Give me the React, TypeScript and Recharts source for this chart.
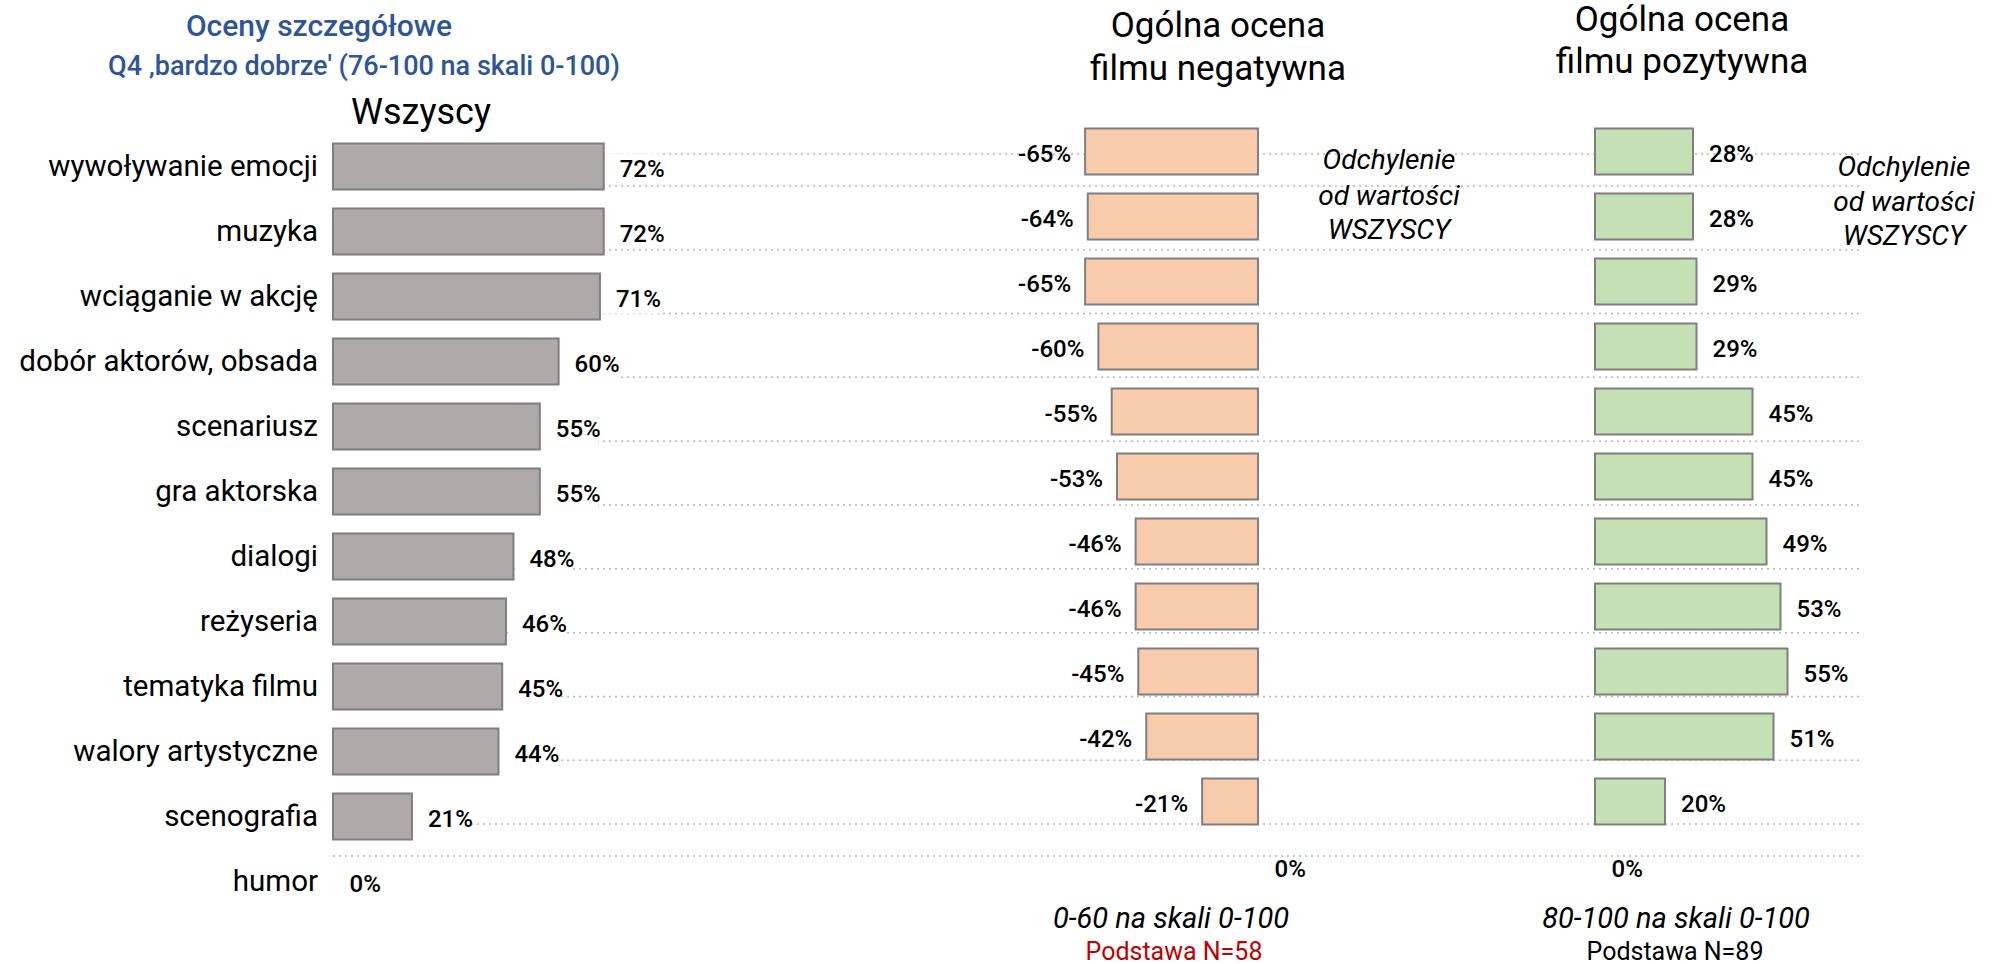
import React from "react"
import { Bar, BarChart, CartesianGrid, Cell, LabelList, XAxis, YAxis } from "recharts"

// oceny szczegółowe – kategorie i wartości
const categories = [
  "wywoływanie emocji",
  "muzyka",
  "wciąganie w akcję",
  "dobór aktorów, obsada",
  "scenariusz",
  "gra aktorska",
  "dialogi",
  "reżyseria",
  "tematyka filmu",
  "walory artystyczne",
  "scenografia",
  "humor",
]
const allValues = [72, 72, 71, 60, 55, 55, 48, 46, 45, 44, 21, 0]
const negativeDiff = [-65, -64, -65, -60, -55, -53, -46, -46, -45, -42, -21, 0]
const positiveDiff = [28, 28, 29, 29, 45, 45, 49, 53, 55, 51, 20, 0]

const allData = categories.map((name, i) => ({ name, value: allValues[i] }))
const negData = categories.map((name, i) => ({ name, value: negativeDiff[i] }))
const posData = categories.map((name, i) => ({ name, value: positiveDiff[i] }))
// linie kropkowane tabeli – jedna pod każdym wierszem ze słupkiem
const gridData = categories.slice(0, 11).map((name) => ({ name }))

const FONT = "Roboto, sans-serif"
const STROKE = "#7f7f7f"

// zero nie rysuje słupka, ale etykieta "0%" ma zostać
const zeroMin = (v: any) => (Number(v) === 0 ? 0.5 : 0)

const renderLabel = (withBg: boolean) => (props: any) => {
  const vb = props.viewBox ?? props
  const x = Number(vb.x ?? props.x)
  const y = Number(vb.y ?? props.y)
  const w = Number(vb.width ?? props.width)
  const h = Number(vb.height ?? props.height)
  const v = Number(props.value)
  const text = `${v}%`
  const left = Math.min(x, x + w)
  const right = Math.max(x, x + w)
  const cy = y + h / 2 + 2
  const neg = v < 0
  const tx = neg ? left - 14 : right + 16
  const tw = text.length * 13.5
  return (
    <g>
      {withBg && <rect x={right + 2} y={cy - 15} width={tw + 16} height={30} fill="#fff" />}
      <text
        x={tx}
        y={cy}
        textAnchor={neg ? "end" : "start"}
        dominantBaseline="central"
        fontFamily={FONT}
        fontSize={24}
        fontWeight={500}
        fill="#000"
      >
        {text}
      </text>
    </g>
  )
}

function Txt({ x, y, size, children, color = "#000", italic = false, weight = 400 }: any) {
  return (
    <div
      style={{
        position: "absolute",
        left: x,
        top: y,
        transform: "translate(-50%, -50%)",
        whiteSpace: "nowrap",
        fontSize: size,
        lineHeight: 1,
        color,
        fontStyle: italic ? "italic" : "normal",
        fontWeight: weight,
      }}
    >
      {children}
    </div>
  )
}

const cells = (values: number[]) =>
  values.map((v, i) => <Cell key={i} fillOpacity={v === 0 ? 0 : 1} strokeOpacity={v === 0 ? 0 : 1} />)

export default function App() {
  return (
    <div style={{ position: "absolute", left: 0, top: 0, width: 1994, height: 964, background: "#fff", fontFamily: FONT, overflow: "hidden" }}>
      <div style={{ position: "absolute", left: 0, top: 0 }}>
        <BarChart width={1994} height={964} data={gridData} layout="vertical" margin={{ top: 154, right: 131, bottom: 108, left: 333 }}>
          <CartesianGrid vertical={false} stroke="#b8b8b8" strokeWidth={1.5} strokeDasharray="2 4" />
          <XAxis type="number" domain={[0, 1]} hide />
          <YAxis type="category" dataKey="name" hide />
        </BarChart>
      </div>

      <div style={{ position: "absolute", left: 0, top: 0 }}>
        <BarChart width={800} height={964} data={allData} layout="vertical" margin={{ top: 133.5, right: 91, bottom: 50.5, left: 0 }}>
          <XAxis type="number" domain={[0, 100]} hide />
          <YAxis
            type="category"
            dataKey="name"
            width={333}
            tickLine={false}
            axisLine={false}
            tickSize={0}
            tickMargin={15}
            tick={{ fill: "#000", fontSize: 29.5, fontFamily: FONT }}
          />
          <Bar dataKey="value" fill="#aeaaaa" stroke={STROKE} strokeWidth={2} barSize={46} minPointSize={zeroMin} isAnimationActive={false}>
            {cells(allValues)}
            <LabelList dataKey="value" content={renderLabel(true)} />
          </Bar>
        </BarChart>
      </div>

      <div style={{ position: "absolute", left: 0, top: 0 }}>
        <BarChart width={1994} height={964} data={negData} layout="vertical" margin={{ top: 118.5, right: 709.4, bottom: 65.5, left: 1071.8 }}>
          <XAxis type="number" domain={[-70, 10]} hide />
          <YAxis type="category" dataKey="name" hide />
          <Bar dataKey="value" fill="#f8cbad" stroke={STROKE} strokeWidth={2} barSize={46} minPointSize={zeroMin} isAnimationActive={false}>
            {cells(negativeDiff)}
            <LabelList dataKey="value" content={renderLabel(false)} />
          </Bar>
        </BarChart>
      </div>

      <div style={{ position: "absolute", left: 0, top: 0 }}>
        <BarChart width={1994} height={964} data={posData} layout="vertical" margin={{ top: 118.5, right: 189, bottom: 65.5, left: 1595 }}>
          <XAxis type="number" domain={[0, 60]} hide />
          <YAxis type="category" dataKey="name" hide />
          <Bar dataKey="value" fill="#c5e0b4" stroke={STROKE} strokeWidth={2} barSize={46} minPointSize={zeroMin} isAnimationActive={false}>
            {cells(positiveDiff)}
            <LabelList dataKey="value" content={renderLabel(false)} />
          </Bar>
        </BarChart>
      </div>

      <Txt x={319} y={26} size={30} color="#2e5597" weight={500}>Oceny szczegółowe</Txt>
      <Txt x={364} y={66} size={27} color="#2e5597" weight={500}>Q4 ‚bardzo dobrze' (76-100 na skali 0-100)</Txt>
      <Txt x={421} y={112} size={36}>Wszyscy</Txt>

      <Txt x={1218} y={25} size={35}>Ogólna ocena</Txt>
      <Txt x={1218} y={68} size={35}>filmu negatywna</Txt>
      <Txt x={1682} y={19} size={35}>Ogólna ocena</Txt>
      <Txt x={1682} y={61} size={35}>filmu pozytywna</Txt>

      <Txt x={1389} y={160} size={28} italic>Odchylenie</Txt>
      <Txt x={1389} y={196} size={28} italic>od wartości</Txt>
      <Txt x={1389} y={230} size={28} italic>WSZYSCY</Txt>
      <Txt x={1904} y={167} size={28} italic>Odchylenie</Txt>
      <Txt x={1904} y={202} size={28} italic>od wartości</Txt>
      <Txt x={1904} y={236} size={28} italic>WSZYSCY</Txt>

      <Txt x={1171} y={918} size={29} italic>0-60 na skali 0-100</Txt>
      <Txt x={1174} y={951} size={25} color="#c00000">Podstawa N=58</Txt>
      <Txt x={1676} y={918} size={29} italic>80-100 na skali 0-100</Txt>
      <Txt x={1675} y={951} size={25}>Podstawa N=89</Txt>
    </div>
  )
}
